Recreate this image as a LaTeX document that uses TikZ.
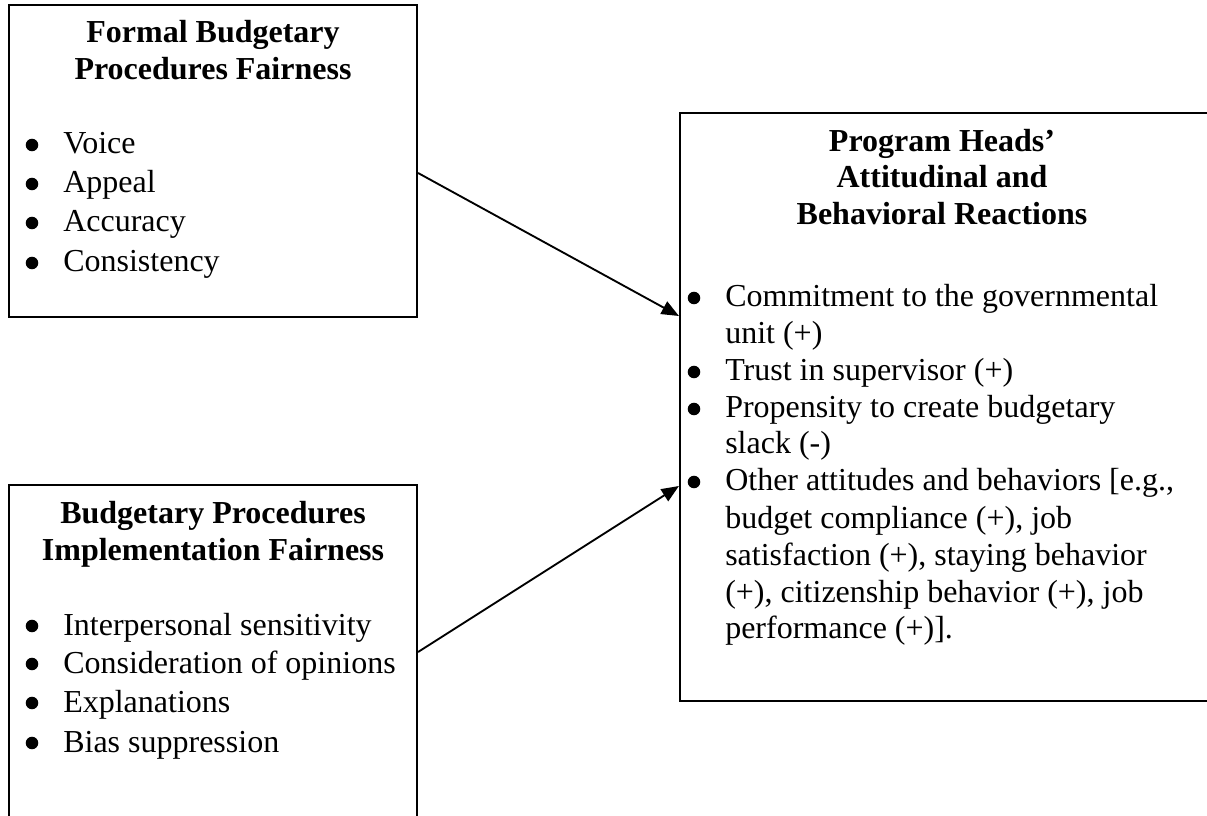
\documentclass[tikz,border=0pt]{standalone}
\usepackage{fontspec}
\setmainfont{Liberation Serif}
\usetikzlibrary{arrows.meta,calc}
\begin{document}
\begin{tikzpicture}[x=0.75pt,y=-0.75pt,
  cardbox/.style={draw,line width=1.6pt,rectangle,inner sep=0pt},
  cardtitle/.style={anchor=base,inner sep=0pt,font=\fontsize{24}{28}\selectfont\bfseries},
  carditem/.style={anchor=base west,inner sep=0pt,font=\fontsize{24}{28}\selectfont},
  flowarrow/.style={line width=1.4pt,-{Triangle[length=13pt,width=10.5pt]}}
]
\useasboundingbox (0,0) rectangle (1207,816);
\clip (0,0) rectangle (1207,816);

% bullet dot placed to the left of a list line
\newcommand\listdotat[2]{\fill ($(#1,#2)+(-31,-9)$) circle (4.7pt);}

% the three boxes
\node[cardbox,minimum width=306pt,minimum height=234pt] (formal) at (213,161) {};
\node[cardbox,minimum width=306pt,minimum height=258.75pt] (impl) at (213,657.5) {};
\node[cardbox,minimum width=397.5pt,minimum height=441pt] (react) at (945,407) {};

% formal procedures box
\node[cardtitle] (ft1) at (213,43) {Formal Budgetary};
\node[cardtitle] (ft2) at (213,80) {Procedures Fairness};
\node[carditem] (fi1) at (63,154) {Voice};
\node[carditem] (fi2) at (63,193) {Appeal};
\node[carditem] (fi3) at (63,232) {Accuracy};
\node[carditem] (fi4) at (63,272) {Consistency};
\foreach \yy in {154,193,232,272} {\listdotat{63}{\yy}}

% implementation box
\node[cardtitle] (it1) at (213,523) {Budgetary Procedures};
\node[cardtitle] (it2) at (213,560) {Implementation Fairness};
\node[carditem] (ii1) at (63,635) {Interpersonal sensitivity};
\node[carditem] (ii2) at (63,673) {Consideration of opinions};
\node[carditem] (ii3) at (63,712) {Explanations};
\node[carditem] (ii4) at (63,752) {Bias suppression};
\foreach \yy in {635,673,712,752} {\listdotat{63}{\yy}}

% reactions box
\node[cardtitle] (rt1) at (942,152) {Program Heads’};
\node[cardtitle] (rt2) at (942,188) {Attitudinal and};
\node[cardtitle] (rt3) at (942,225) {Behavioral Reactions};
\node[carditem] (ri1) at (725,307) {Commitment to the governmental};
\node[carditem] (ri2) at (725,344) {unit (+)};
\node[carditem] (ri3) at (725,381) {Trust in supervisor (+)};
\node[carditem] (ri4) at (725,418) {Propensity to create budgetary};
\node[carditem] (ri5) at (725,454) {slack (-)};
\node[carditem] (ri6) at (725,491) {Other attitudes and behaviors [e.g.,};
\node[carditem] (ri7) at (725,528) {budget compliance (+), job};
\node[carditem] (ri8) at (725,565) {satisfaction (+), staying behavior};
\node[carditem] (ri9) at (725,602) {(+), citizenship behavior (+), job};
\node[carditem] (ri10) at (725,638) {performance (+)].};
\foreach \yy in {307,381,418,491} {\listdotat{725}{\yy}}

% connectors
\draw[flowarrow] ($(formal.east)+(0,12)$) -- ($(react.west)+(0,-91)$);
\draw[flowarrow] ($(impl.east)+(0,-5.5)$) -- ($(react.west)+(0,79)$);
\end{tikzpicture}
\end{document}
